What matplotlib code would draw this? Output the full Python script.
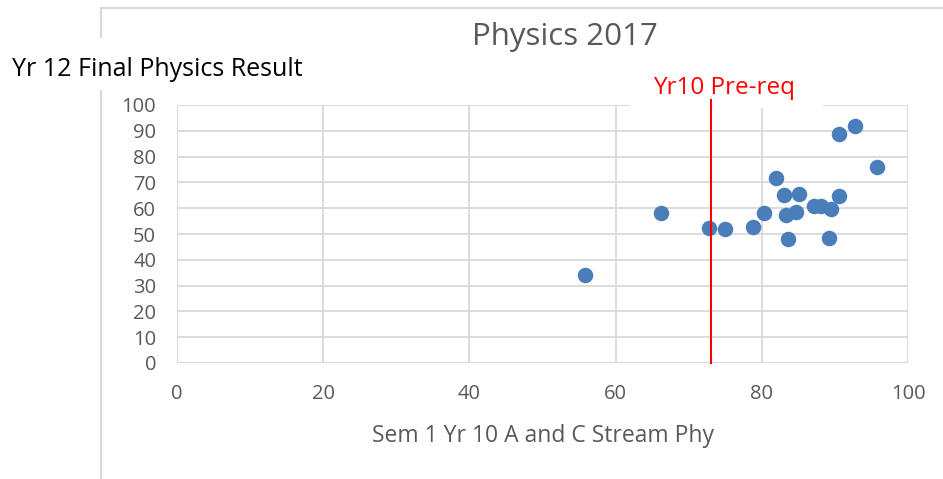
import matplotlib
matplotlib.use("Agg")
from matplotlib import pyplot as plt
from matplotlib.lines import Line2D
from matplotlib.patches import Rectangle

# data
sem1_yr10 = [55.8, 66.2, 72.8, 75.0, 78.8, 80.3, 81.9, 83.1, 85.1, 83.3,
             84.7, 83.6, 87.1, 88.1, 89.4, 89.2, 90.6, 90.5, 92.8, 95.8]
yr12_final = [34.1, 58.0, 52.5, 51.8, 52.9, 58.2, 71.8, 65.0, 65.5, 57.4,
              58.6, 48.2, 60.8, 61.0, 59.6, 48.6, 64.8, 88.6, 91.8, 75.8]
prereq = 73
x_ticks = [0, 20, 40, 60, 80, 100]
y_ticks = list(range(0, 101, 10))

plt.rcParams['font.family'] = ['Open Sans', 'DejaVu Sans']
grey = '#595959'
grid = '#d9d9d9'

fig = plt.figure(figsize=(9.43, 4.79), dpi=100)
ax = fig.add_axes([177 / 943, 1 - 363 / 479, (908 - 177) / 943, (363 - 105) / 479])

ax.scatter(sem1_yr10, yr12_final, s=125, color='#4a7ebb', zorder=3, linewidths=0)
ax.axvline(prereq, color='#ff0000', lw=1.5, zorder=4, ymax=1.02, clip_on=False)

ax.set_xlim(0, 100)
ax.set_ylim(0, 100)
ax.set_xticks(x_ticks)
ax.set_yticks(y_ticks)
ax.grid(True, color=grid, lw=1.3, zorder=0)
ax.set_axisbelow(True)
ax.tick_params(length=0, labelsize=14.5, colors=grey)
ax.tick_params(axis='x', pad=15)
ax.tick_params(axis='y', pad=15)
for side in ['top', 'right', 'left', 'bottom']:
    ax.spines[side].set_visible(False)
ax.axhline(0, color=grid, lw=1.5, zorder=1)
ax.axvline(0, color=grid, lw=1.5, zorder=1)

# white box of the pre-req label, hiding part of the top gridline
ax.add_patch(Rectangle((0.62, 0.99), 0.264, 0.16, transform=ax.transAxes,
                       facecolor='white', edgecolor='none', zorder=2,
                       clip_on=False))
fig.text(724 / 943, 1 - 88 / 479, 'Yr10 Pre-req', color='#ff0000', fontsize=17.5,
         ha='center', va='center', zorder=6)

fig.text(565 / 943, 1 - 37 / 479, 'Physics 2017', ha='center', va='center',
         fontsize=22.5, color=grey)
fig.text(12 / 943, 1 - 70 / 479, 'Yr 12 Final Physics Result', ha='left',
         va='center', fontsize=18, color='black')
fig.text(543 / 943, 1 - 436 / 479, 'Sem 1 Yr 10 A and C Stream Phy',
         ha='center', va='center', fontsize=16.5, color=grey)

# outer chart frame
fig.add_artist(Line2D([101 / 943, 1], [1 - 8 / 479] * 2, color=grid, lw=1.5,
                      transform=fig.transFigure))
fig.add_artist(Line2D([101 / 943] * 2, [1 - 8 / 479, 1 - 37 / 479], color=grid,
                      lw=1.5, transform=fig.transFigure))
fig.add_artist(Line2D([101 / 943] * 2, [1 - 91 / 479, 0], color=grid, lw=1.5,
                      transform=fig.transFigure))

fig.savefig('out.png', dpi=100)
